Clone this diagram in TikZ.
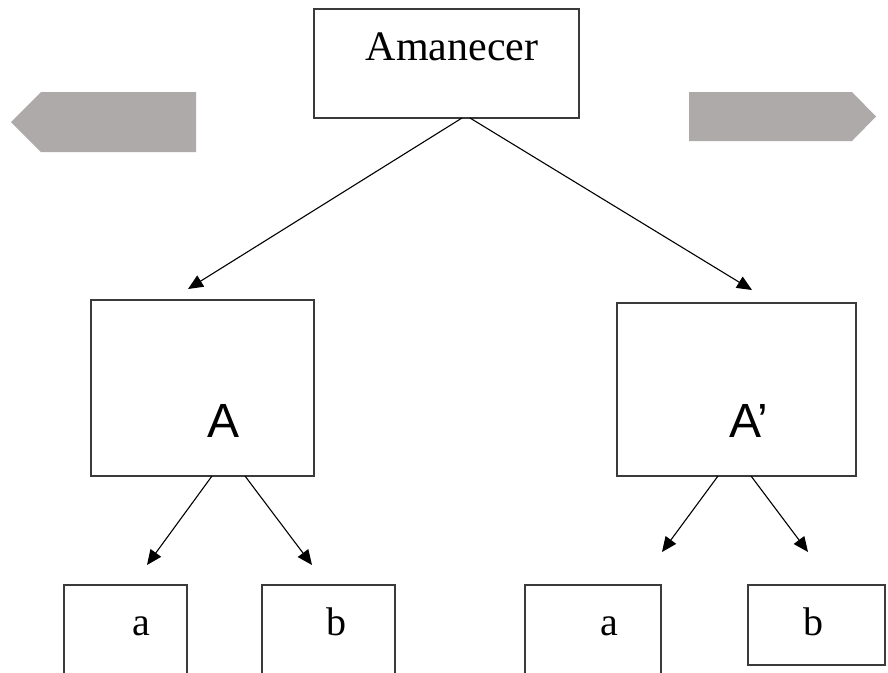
\documentclass[tikz,border=0pt]{standalone}
\usepackage{fontspec}
\setmainfont{Liberation Serif}
\newfontfamily\boxsans{Liberation Sans}
\usetikzlibrary{arrows.meta,positioning}
\definecolor{bandGray}{HTML}{AEAAAA}
\definecolor{edgeGray}{HTML}{3A3A3A}

\begin{document}
\begin{tikzpicture}[
  x=1pt, y=-1pt,
  box/.style={draw=edgeGray, line width=1.4pt, fill=white, inner sep=0pt, outer sep=0pt},
  serifL/.style={anchor=base, inner sep=0pt, font=\fontsize{42}{46}\selectfont},
  serifS/.style={anchor=base, inner sep=0pt, font=\fontsize{40}{44}\selectfont},
  sansL/.style={anchor=base, inner sep=0pt, font=\boxsans\fontsize{48}{52}\selectfont},
  arr/.style={-{Triangle[length=15pt,width=13pt]}, line width=1.1pt, black}
]
\clip (0,0) rectangle (888,672);
\fill[white] (0,0) rectangle (888,672);

% Gray side arrows
\fill[bandGray] (11,122) -- (41,92) -- (196,92) -- (196,152) -- (41,152) -- cycle;
\fill[bandGray] (689,92) -- (852,92) -- (876,116.5) -- (852,141) -- (689,141) -- cycle;

% Top box
\node[box, minimum width=265pt, minimum height=109pt] (T0) at (446.5,63.5) {};
\node[serifL] (T0t) at (452,60) {Amanecer};

% Middle boxes
\node[box, minimum width=223pt, minimum height=176pt] (A0) at (202.5,388) {};
\node[sansL] (A0t) at (224,437) {A};
\node[box, minimum width=239pt, minimum height=173pt] (A1) at (736.5,389.5) {};
\node[sansL] (A1t) at (749,437) {A’};
\draw[arr] ([xshift=15.5pt]T0.south) -- ([xshift=-14.5pt,yshift=11pt]A0.north);
\draw[arr] ([xshift=23.5pt]T0.south) -- ([xshift=15.5pt,yshift=13pt]A1.north);

% Bottom boxes
\node[box, minimum width=123pt, minimum height=115pt] (a0) at (125.5,642.5) {};
\node[serifS] (a0t) at (141,635) {a};
\node[box, minimum width=133pt, minimum height=115pt] (b0) at (328.5,642.5) {};
\node[serifS] (b0t) at (336,635) {b};
\node[box, minimum width=136pt, minimum height=115pt] (a1) at (593,642.5) {};
\node[serifS] (a1t) at (609,635) {a};
\node[box, minimum width=137pt, minimum height=80pt] (b1) at (816.5,625) {};
\node[serifS] (b1t) at (813,635) {b};
\draw[arr] ([xshift=9.5pt]A0.south) -- ([xshift=21.5pt,yshift=20pt]a0.north);
\draw[arr] ([xshift=42.5pt]A0.south) -- ([xshift=-16.5pt,yshift=20pt]b0.north);
\draw[arr] ([xshift=-18.5pt]A1.south) -- ([xshift=69pt,yshift=33pt]a1.north);
\draw[arr] ([xshift=14.5pt]A1.south) -- ([xshift=-8.5pt,yshift=33pt]b1.north);
\end{tikzpicture}
\end{document}
